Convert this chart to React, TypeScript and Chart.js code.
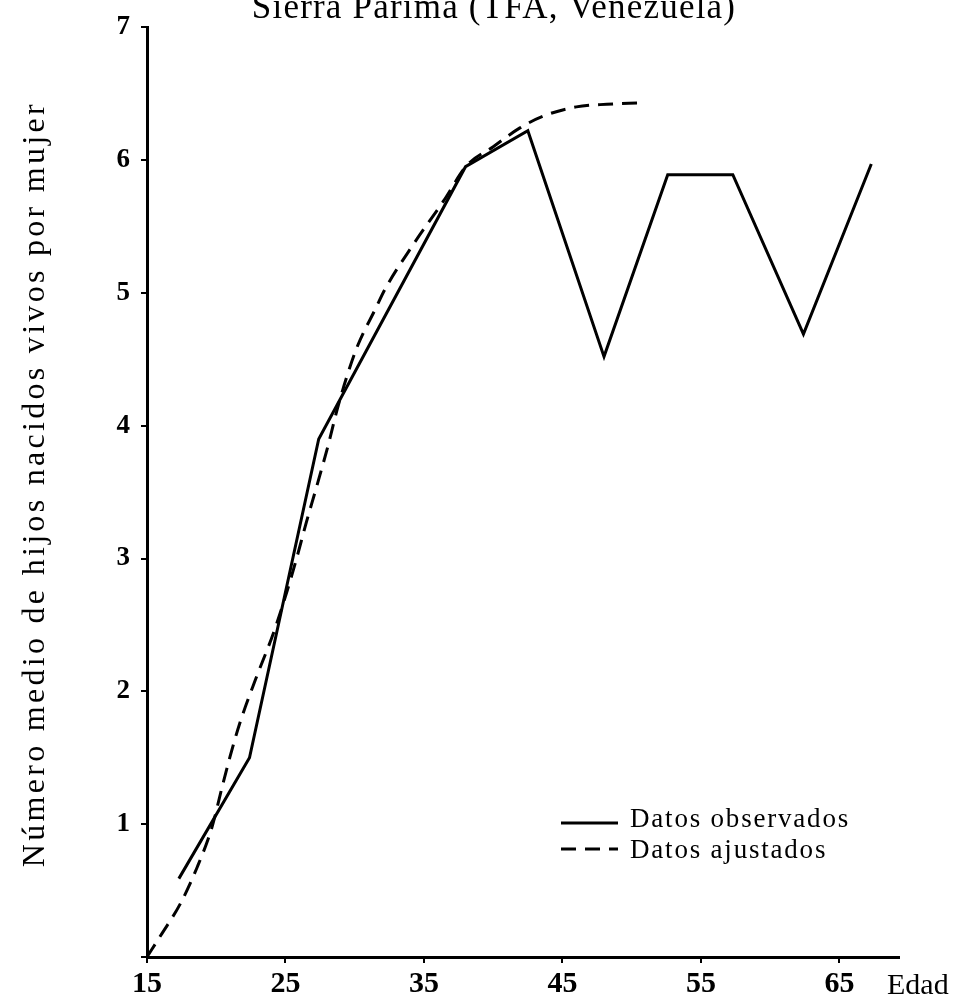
import React, { useEffect, useRef } from "react";
import { Chart, registerables } from "chart.js";

Chart.register(...registerables);

// ---- data ----
const titleText = "Sierra Parima (TFA, Venezuela)";
const yTitle = "Número medio de hijos nacidos vivos por mujer";
const xTitle = "Edad";
const xTickValues = [15, 25, 35, 45, 55, 65];
const seriesLabels = ["Datos observados", "Datos ajustados"];

const obsAge = [17.3, 22.4, 27.4, 38.0, 42.5, 48.0, 52.6, 57.3, 62.4, 67.3];
const obsVal = [0.59, 1.5, 3.9, 5.95, 6.22, 4.52, 5.89, 5.89, 4.69, 5.97];

const fitAge = [15, 16.1, 17.4, 18.6, 19.7, 20.4, 21.0, 21.7, 22.8, 24.1, 25.1, 25.8, 26.5, 27.3, 28.1, 28.7, 29.4, 30.2, 31.5, 32.2, 34.2, 36.4, 38.1, 40.0, 41.9, 43.6, 46.0, 48.2, 50.6];
const fitVal = [0, 0.18, 0.4, 0.67, 0.98, 1.27, 1.51, 1.76, 2.08, 2.43, 2.75, 3.0, 3.27, 3.56, 3.86, 4.11, 4.36, 4.6, 4.88, 5.03, 5.36, 5.69, 5.96, 6.1, 6.24, 6.33, 6.4, 6.42, 6.43];

const SERIF = "'Liberation Serif', 'Times New Roman', serif";
const INK = "#000";

const decoPlugin = {
  id: "deco",
  afterDraw(chart: any) {
    const { ctx, chartArea } = chart;
    ctx.save();
    ctx.fillStyle = INK;
    // title (partly cut at the top, as in the reference)
    ctx.font = `35px ${SERIF}`;
    (ctx as any).letterSpacing = "1.2px";
    ctx.textAlign = "center";
    ctx.textBaseline = "alphabetic";
    ctx.fillText(titleText, 494, 18);

    // y title
    ctx.save();
    ctx.translate(36, (chartArea.top + chartArea.bottom) / 2 - 8);
    ctx.rotate(-Math.PI / 2);
    ctx.font = `32px ${SERIF}`;
    (ctx as any).letterSpacing = "3.3px";
    ctx.textAlign = "center";
    ctx.textBaseline = "middle";
    ctx.fillText(yTitle, 0, 0);
    ctx.restore();

    // x title "Edad"
    ctx.font = `30px ${SERIF}`;
    (ctx as any).letterSpacing = "0px";
    ctx.textAlign = "left";
    ctx.textBaseline = "alphabetic";
    ctx.fillText(xTitle, 887, 994);

    // legend
    const rows = [
      { y: 820, lineY: 823 },
      { y: 851, lineY: 849 },
    ];
    chart.data.datasets.forEach((ds: any, i: number) => {
      const r = rows[i];
      ctx.save();
      ctx.strokeStyle = ds.borderColor;
      ctx.lineWidth = 3;
      ctx.setLineDash(ds.borderDash || []);
      ctx.beginPath();
      ctx.moveTo(561, r.lineY);
      ctx.lineTo(618, r.lineY);
      ctx.stroke();
      ctx.restore();
      ctx.font = `27px ${SERIF}`;
      (ctx as any).letterSpacing = "1.8px";
      ctx.textAlign = "left";
      ctx.textBaseline = "middle";
      ctx.fillText(ds.label, 630, r.y);
    });
    ctx.restore();
  },
};

export default function App() {
  const ref = useRef<HTMLCanvasElement | null>(null);
  useEffect(() => {
    if (!ref.current) return;
    const chart = new Chart(ref.current, {
      type: "line",
      data: {
        datasets: [
          {
            label: seriesLabels[0],
            data: obsAge.map((x, i) => ({ x, y: obsVal[i] })),
            borderColor: INK,
            borderWidth: 3,
            pointRadius: 0,
            borderJoinStyle: "miter",
            tension: 0,
            fill: false,
            clip: 6,
          },
          {
            label: seriesLabels[1],
            data: fitAge.map((x, i) => ({ x, y: fitVal[i] })),
            borderColor: INK,
            borderWidth: 3,
            borderDash: [15, 9],
            pointRadius: 0,
            cubicInterpolationMode: "monotone",
            fill: false,
            clip: 6,
          },
        ],
      } as any,
      plugins: [decoPlugin],
      options: {
        animation: false,
        responsive: false,
        events: [],
        layout: { padding: { left: 0, top: 14, right: 58, bottom: 0 } },
        plugins: {
          legend: { display: false },
          title: { display: false },
          tooltip: { enabled: false },
        },
        scales: {
          x: {
            type: "linear",
            min: 15,
            max: 69.3,
            afterFit: (s: any) => {
              s.height = 42;
            },
            afterBuildTicks: (s: any) => {
              s.ticks = xTickValues.map((v) => ({ value: v }));
            },
            border: { display: true, color: INK, width: 3 },
            grid: {
              display: true,
              drawOnChartArea: false,
              drawTicks: true,
              tickLength: 6,
              color: INK,
              lineWidth: 2,
            },
            ticks: {
              color: INK,
              padding: 3,
              font: { family: SERIF, size: 30, weight: "bold" },
              maxRotation: 0,
              autoSkip: false,
            },
          },
          y: {
            type: "linear",
            min: 0,
            max: 7,
            afterFit: (s: any) => {
              s.width = 147;
            },
            border: { display: true, color: INK, width: 3 },
            grid: {
              display: true,
              drawOnChartArea: false,
              drawTicks: true,
              tickLength: 6,
              color: INK,
              lineWidth: 2,
            },
            ticks: {
              stepSize: 1,
              color: INK,
              padding: 11,
              font: { family: SERIF, size: 27, weight: "bold" },
              callback: (v: any) => (v === 0 ? "" : String(v)),
            },
          },
        },
      } as any,
    });
    return () => chart.destroy();
  }, []);
  return (
    <div style={{ position: "absolute", left: 0, top: 0, width: 957, height: 999, background: "#fff" }}>
      <canvas ref={ref} width={957} height={999} style={{ display: "block" }} />
    </div>
  );
}
